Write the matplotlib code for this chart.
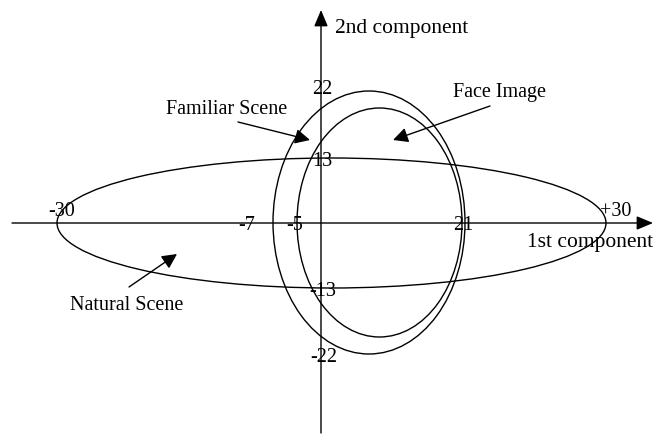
import matplotlib
matplotlib.use("Agg")
import matplotlib.pyplot as plt
from matplotlib.patches import Ellipse

plt.rcParams['font.family'] = ['Liberation Serif', 'DejaVu Serif']

# Données du schéma (unités du dessin, origine au croisement des axes)
noms = ["Natural Scene", "Familiar Scene", "Face Image"]
gauche = [-264, -48, -24]
droite = [285, 144, 141]
bas = [-65, -131, -114]
haut = [65, 132, 115]

# Etiquettes des graduations
etiq_x = ["-30", "-7", "-5", "21", "+30"]
etiq_y = ["22", "13", "-13", "-22"]

fig = plt.figure(figsize=(6.56, 4.34), dpi=100)
ax = fig.add_axes([0, 0, 1, 1])
ax.set_xlim(-321, 335)
ax.set_ylim(-211, 223)
ax.axis('off')

# Axes avec flèches
fleche = dict(arrowstyle="-|>,head_length=1.0,head_width=0.42", color="black",
              lw=1.0, shrinkA=0, shrinkB=0, mutation_scale=10)
ax.annotate("", xy=(332, 0), xytext=(-309, 0), arrowprops=fleche)
ax.annotate("", xy=(0, 213), xytext=(0, -210), arrowprops=fleche)

# Ellipses
for g, d, b, h in zip(gauche, droite, bas, haut):
    e = Ellipse(((g + d) / 2, (b + h) / 2), d - g, h - b, fill=False,
                edgecolor="black", lw=1.0)
    ax.add_patch(e)

# Graduations
pos_x = [(-259, 12), (-74, -3), (-26, -3), (142, -3), (295, 12)]
for txt, (x, y) in zip(etiq_x, pos_x):
    ax.text(x, y, txt, fontsize=14.5, ha="center", va="center")
pos_y = [(1, 133), (1, 61), (2, -69), (3, -134)]
for txt, (x, y) in zip(etiq_y, pos_y):
    ax.text(x, y, txt, fontsize=14.5, ha="center", va="center")

ax.text(14, 194, "2nd component", fontsize=15.5, ha="left", va="center")
ax.text(269, -19, "1st component", fontsize=15.5, ha="center", va="center")

# Légendes avec flèches
fl = dict(arrowstyle="-|>,head_length=0.9,head_width=0.45", color="black",
          lw=1.0, shrinkA=0, shrinkB=0, mutation_scale=10)
ax.text(-194, -82, noms[0], fontsize=14.5, ha="center", va="center")
ax.annotate("", xy=(-144, -31), xytext=(-192, -64), arrowprops=fl)
ax.text(-94, 114, noms[1], fontsize=14.5, ha="center", va="center")
ax.annotate("", xy=(-11, 83), xytext=(-83, 101), arrowprops=fl)
ax.text(132, 131, noms[2], fontsize=14.5, ha="left", va="center")
ax.annotate("", xy=(72, 83), xytext=(169, 117), arrowprops=fl)

fig.savefig("out.png", dpi=100)
